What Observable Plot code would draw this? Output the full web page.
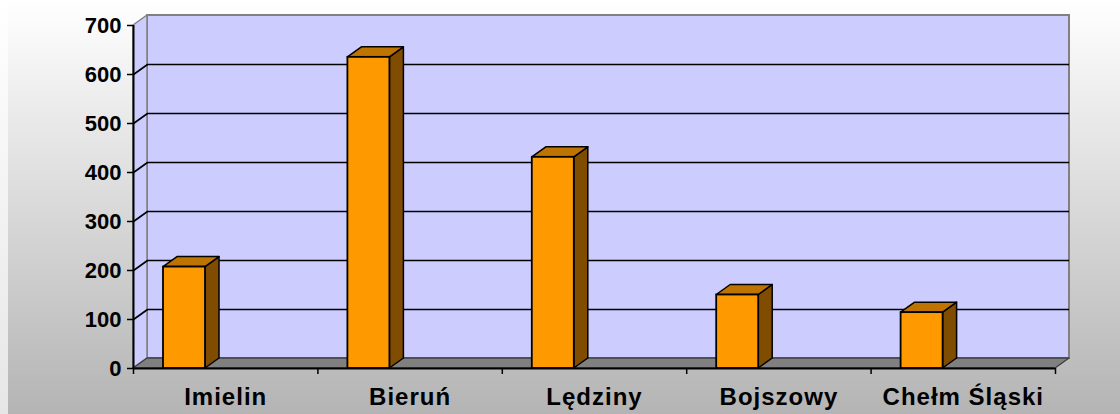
<!DOCTYPE html>
<html><head><meta charset="utf-8">
<script src="https://cdn.jsdelivr.net/npm/d3@7"></script>
<script src="https://cdn.jsdelivr.net/npm/@observablehq/plot@0.6"></script>
<style>html,body{margin:0;padding:0;background:#fff;overflow:hidden;}</style>
</head><body><div id="chart"></div>
<script>
const categories = ["Imielin", "Bieruń", "Lędziny", "Bojszowy", "Chełm Śląski"];
const values = [207, 635, 431, 150, 114];
const yTicks = [0, 100, 200, 300, 400, 500, 600, 700];

const W = 1120, H = 414, mL = 133, mR = 65, mT = 25, mB = 46;
const depthPx = 14, risePx = 10;
const n = categories.length;
const yMax = 700;
const xPerPx = n / (W - mL - mR);
const yPerPx = yMax / (H - mT - mB);
const dX = depthPx * xPerPx, dY = risePx * yPerPx;
const o1 = 30 / 184.4, o2 = 72 / 184.4;

const bars = categories.map((c, i) => ({c, i, v: values[i], x1: i + o1, x2: i + o2}));
const side = bars.flatMap(b => [
  {c: b.c, x: b.x2, y1: 0, y2: b.v},
  {c: b.c, x: b.x2 + dX, y1: dY, y2: b.v + dY}
]);
const topF = bars.flatMap(b => [
  {c: b.c, x: b.x1, y1: b.v, y2: b.v},
  {c: b.c, x: b.x1 + dX, y1: b.v, y2: b.v + dY},
  {c: b.c, x: b.x2, y1: b.v, y2: b.v + dY},
  {c: b.c, x: b.x2 + dX, y1: b.v + dY, y2: b.v + dY}
]);
const leftWall = [{x: 0, y1: 0, y2: yMax}, {x: dX, y1: dY, y2: yMax + dY}];
const floor = [
  {x: 0, y1: 0, y2: 0},
  {x: dX, y1: 0, y2: dY},
  {x: n, y1: 0, y2: dY},
  {x: n + dX, y1: dY, y2: dY}
];
const inner = yTicks.filter(t => t > 0 && t < yMax);

const svg = Plot.plot({
  width: W, height: H,
  marginLeft: mL, marginRight: mR, marginTop: mT, marginBottom: mB,
  x: {type: "linear", domain: [0, n], axis: null},
  y: {domain: [0, yMax]},
  style: {fontFamily: "'Liberation Sans', Arial, sans-serif", background: "transparent", overflow: "visible", color: "black"},
  marks: [
    Plot.rect([0], {x1: () => 0, x2: () => n, y1: () => 0, y2: () => yMax, dx: depthPx, dy: -risePx, fill: "#ccccff", stroke: "#808080", strokeWidth: 2}),
    Plot.areaY(leftWall, {x: "x", y1: "y1", y2: "y2", fill: "#ccccff", stroke: "#808080", strokeWidth: 1.5}),
    Plot.areaY(floor, {x: "x", y1: "y1", y2: "y2", fill: "#808080", stroke: "#404040", strokeWidth: 1.5}),
    Plot.ruleY(inner, {y: d => d, x1: () => 0, x2: () => n, dx: depthPx, dy: -risePx, stroke: "black", strokeWidth: 1.6}),
    Plot.link(inner, {x1: () => 0, y1: d => d, x2: () => dX, y2: d => d + dY, stroke: "black", strokeWidth: 1.6}),
    Plot.ruleX([0], {x: () => 0, y1: () => 0, y2: () => yMax, stroke: "black", strokeWidth: 2}),
    Plot.ruleY([0], {y: () => 0, x1: () => 0, x2: () => n, stroke: "black", strokeWidth: 2}),
    Plot.ruleX(d3.range(n + 1), {x: d => d, y1: () => 0, y2: () => -6 * yPerPx, stroke: "black", strokeWidth: 1.5}),
    Plot.axisY(yTicks, {tickSize: 6, tickPadding: 6, fontSize: 22, fontWeight: "bold", strokeWidth: 1.5, fill: "black", stroke: "black"}),
    Plot.areaY(side, {x: "x", y1: "y1", y2: "y2", z: "c", fill: "#7f4c00", stroke: "black", strokeWidth: 1.5}),
    Plot.areaY(topF, {x: "x", y1: "y1", y2: "y2", z: "c", fill: "#bf7300", stroke: "black", strokeWidth: 1.5}),
    Plot.rectY(bars, {x1: "x1", x2: "x2", y1: () => 0, y2: "v", fill: "#ff9900", stroke: "black", strokeWidth: 1.8}),
    Plot.text(categories, {x: (d, i) => i + 0.5, y: () => 0, dy: 36, lineAnchor: "bottom", text: d => d, fontSize: 24, fontWeight: "bold", fill: "black"})
  ]
});
svg.style.background = "linear-gradient(to bottom, #ffffff, #e6e6e6) left top / 8px 100% no-repeat, linear-gradient(to bottom, #ffffff, #b4b4b4)";
d3.select(svg).selectAll("text").filter(function() { return categories.includes(this.textContent); }).attr("letter-spacing", "1px");
document.getElementById("chart").appendChild(svg);
</script>
</body></html>
